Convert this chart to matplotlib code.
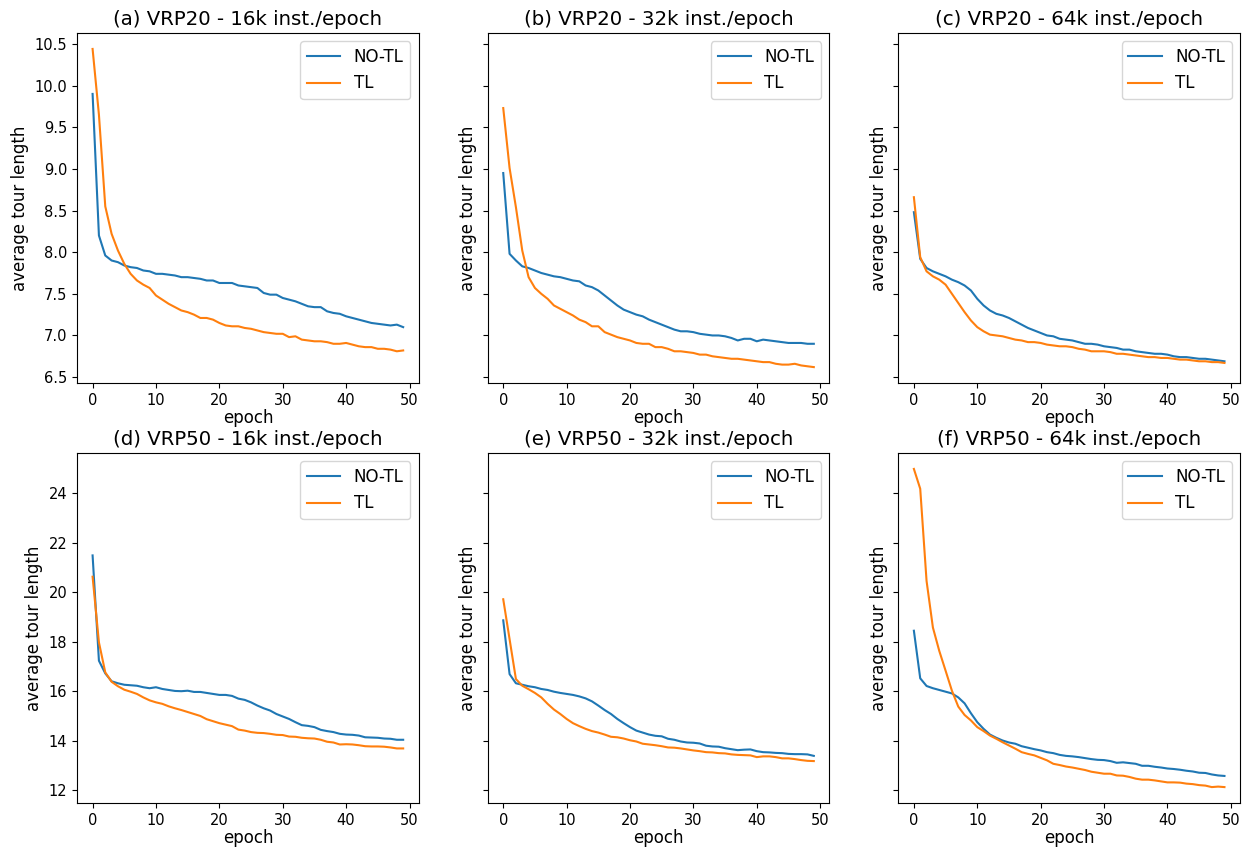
import matplotlib
matplotlib.use("Agg")
import matplotlib.pyplot as plt
import numpy as np

epochs = np.arange(50)

# (a) VRP20 - 16k
a_notl = [9.90, 8.20, 7.96, 7.90, 7.88, 7.84, 7.82, 7.81, 7.78, 7.77,
          7.74, 7.74, 7.73, 7.72, 7.70, 7.70, 7.69, 7.68, 7.66, 7.66,
          7.63, 7.63, 7.63, 7.60, 7.59, 7.58, 7.57, 7.51, 7.49, 7.49,
          7.45, 7.43, 7.41, 7.38, 7.35, 7.34, 7.34, 7.29, 7.27, 7.26,
          7.23, 7.21, 7.19, 7.17, 7.15, 7.14, 7.13, 7.12, 7.13, 7.10]
a_tl = [10.44, 9.65, 8.55, 8.22, 8.02, 7.86, 7.74, 7.66, 7.61, 7.57,
        7.48, 7.43, 7.38, 7.34, 7.30, 7.28, 7.25, 7.21, 7.21, 7.19,
        7.15, 7.12, 7.11, 7.11, 7.09, 7.08, 7.06, 7.04, 7.03, 7.02,
        7.02, 6.98, 6.99, 6.95, 6.94, 6.93, 6.93, 6.92, 6.90, 6.90,
        6.91, 6.89, 6.87, 6.86, 6.86, 6.84, 6.84, 6.83, 6.81, 6.82]

# (b) VRP20 - 32k
b_notl = [8.95, 7.98, 7.90, 7.83, 7.81, 7.78, 7.75, 7.73, 7.71, 7.70,
          7.68, 7.66, 7.65, 7.60, 7.58, 7.54, 7.48, 7.42, 7.36, 7.31,
          7.28, 7.25, 7.23, 7.19, 7.16, 7.13, 7.10, 7.07, 7.05, 7.05,
          7.04, 7.02, 7.01, 7.00, 7.00, 6.99, 6.97, 6.94, 6.96, 6.96,
          6.93, 6.95, 6.94, 6.93, 6.92, 6.91, 6.91, 6.91, 6.90, 6.90]
b_tl = [9.73, 9.01, 8.54, 8.02, 7.70, 7.57, 7.50, 7.44, 7.36, 7.32,
        7.28, 7.24, 7.19, 7.16, 7.11, 7.11, 7.04, 7.01, 6.98, 6.96,
        6.94, 6.91, 6.90, 6.90, 6.86, 6.86, 6.84, 6.81, 6.81, 6.80,
        6.79, 6.77, 6.77, 6.75, 6.74, 6.73, 6.72, 6.72, 6.71, 6.70,
        6.69, 6.68, 6.68, 6.66, 6.65, 6.65, 6.66, 6.64, 6.63, 6.62]

# (c) VRP20 - 64k
c_notl = [8.48, 7.92, 7.81, 7.77, 7.74, 7.71, 7.67, 7.64, 7.60, 7.54,
          7.44, 7.36, 7.30, 7.26, 7.24, 7.21, 7.17, 7.13, 7.09, 7.06,
          7.03, 7.00, 6.99, 6.96, 6.95, 6.94, 6.92, 6.90, 6.90, 6.89,
          6.87, 6.86, 6.85, 6.83, 6.83, 6.81, 6.80, 6.79, 6.78, 6.78,
          6.77, 6.75, 6.74, 6.74, 6.73, 6.72, 6.72, 6.71, 6.70, 6.69]
c_tl = [8.66, 7.94, 7.77, 7.71, 7.67, 7.61, 7.50, 7.39, 7.28, 7.18,
        7.10, 7.05, 7.01, 7.00, 6.99, 6.97, 6.95, 6.94, 6.92, 6.92,
        6.91, 6.89, 6.88, 6.87, 6.87, 6.86, 6.84, 6.83, 6.81, 6.81,
        6.81, 6.80, 6.78, 6.78, 6.77, 6.76, 6.75, 6.74, 6.74, 6.73,
        6.73, 6.72, 6.71, 6.71, 6.70, 6.69, 6.69, 6.68, 6.68, 6.67]

# (d) VRP50 - 16k
d_notl = [21.48, 17.23, 16.72, 16.40, 16.32, 16.26, 16.24, 16.22, 16.16, 16.12,
          16.16, 16.09, 16.05, 16.01, 16.00, 16.02, 15.97, 15.97, 15.93, 15.89,
          15.85, 15.85, 15.81, 15.70, 15.65, 15.55, 15.42, 15.31, 15.22, 15.08,
          14.98, 14.88, 14.75, 14.63, 14.60, 14.55, 14.44, 14.39, 14.35, 14.28,
          14.25, 14.24, 14.21, 14.14, 14.13, 14.12, 14.09, 14.08, 14.04, 14.04]
d_tl = [20.62, 17.97, 16.76, 16.38, 16.20, 16.06, 15.98, 15.89, 15.75, 15.63,
        15.55, 15.49, 15.39, 15.31, 15.24, 15.16, 15.08, 15.00, 14.87, 14.79,
        14.71, 14.65, 14.59, 14.45, 14.41, 14.35, 14.32, 14.31, 14.28, 14.24,
        14.23, 14.17, 14.16, 14.12, 14.10, 14.09, 14.04, 13.96, 13.93, 13.85,
        13.86, 13.85, 13.82, 13.78, 13.77, 13.77, 13.76, 13.73, 13.69, 13.69]

# (e) VRP50 - 32k
e_notl = [18.86, 16.69, 16.32, 16.26, 16.20, 16.16, 16.09, 16.05, 15.98, 15.93,
          15.89, 15.85, 15.79, 15.71, 15.59, 15.42, 15.24, 15.08, 14.88, 14.71,
          14.55, 14.41, 14.33, 14.25, 14.20, 14.18, 14.08, 14.04, 13.97, 13.93,
          13.92, 13.89, 13.80, 13.77, 13.76, 13.70, 13.66, 13.62, 13.64, 13.65,
          13.58, 13.54, 13.53, 13.51, 13.50, 13.47, 13.46, 13.46, 13.45, 13.39]
e_tl = [19.71, 18.10, 16.49, 16.22, 16.08, 15.93, 15.75, 15.49, 15.26, 15.08,
        14.88, 14.71, 14.59, 14.48, 14.39, 14.33, 14.25, 14.16, 14.14, 14.09,
        14.02, 13.97, 13.88, 13.85, 13.82, 13.78, 13.73, 13.72, 13.69, 13.65,
        13.61, 13.58, 13.54, 13.53, 13.50, 13.49, 13.45, 13.43, 13.42, 13.41,
        13.34, 13.37, 13.37, 13.34, 13.29, 13.29, 13.26, 13.22, 13.19, 13.18]

# (f) VRP50 - 64k
f_notl = [18.44, 16.52, 16.21, 16.12, 16.05, 15.98, 15.91, 15.75, 15.51, 15.11,
          14.75, 14.48, 14.25, 14.12, 14.01, 13.93, 13.88, 13.78, 13.72, 13.66,
          13.61, 13.54, 13.50, 13.43, 13.39, 13.37, 13.34, 13.30, 13.26, 13.23,
          13.22, 13.18, 13.11, 13.13, 13.10, 13.07, 12.99, 12.99, 12.95, 12.92,
          12.88, 12.86, 12.83, 12.79, 12.76, 12.71, 12.70, 12.64, 12.60, 12.58]
f_tl = [24.97, 24.17, 20.45, 18.57, 17.63, 16.83, 16.02, 15.38, 15.04, 14.82,
        14.55, 14.39, 14.21, 14.08, 13.94, 13.81, 13.68, 13.54, 13.47, 13.41,
        13.31, 13.21, 13.07, 13.02, 12.96, 12.92, 12.87, 12.82, 12.75, 12.71,
        12.67, 12.67, 12.60, 12.59, 12.54, 12.47, 12.43, 12.43, 12.40, 12.36,
        12.32, 12.32, 12.31, 12.27, 12.25, 12.21, 12.19, 12.13, 12.15, 12.13]

titles = ["(a) VRP20 - 16k inst./epoch", "(b) VRP20 - 32k inst./epoch",
          "(c) VRP20 - 64k inst./epoch", "(d) VRP50 - 16k inst./epoch",
          "(e) VRP50 - 32k inst./epoch", "(f) VRP50 - 64k inst./epoch"]
series = [(a_notl, a_tl), (b_notl, b_tl), (c_notl, c_tl),
          (d_notl, d_tl), (e_notl, e_tl), (f_notl, f_tl)]

fig, axes = plt.subplots(2, 3, figsize=(12.51, 8.58), dpi=100, sharey='row')
fig.subplots_adjust(left=0.0616, right=0.9912, bottom=0.0641, top=0.9615,
                    wspace=0.202, hspace=0.2)

for ax, title, (notl, tl) in zip(axes.flat, titles, series):
    ax.plot(epochs, notl, label='NO-TL')
    ax.plot(epochs, tl, label='TL')
    ax.set_title(title, fontsize=14.2)
    ax.set_xlabel('epoch', fontsize=12, labelpad=1)
    ax.set_ylabel('average tour length', fontsize=12)
    ax.tick_params(labelsize=10.5)
    ax.legend(loc='upper right', fontsize=12)

plt.savefig('out.png', dpi=100)
